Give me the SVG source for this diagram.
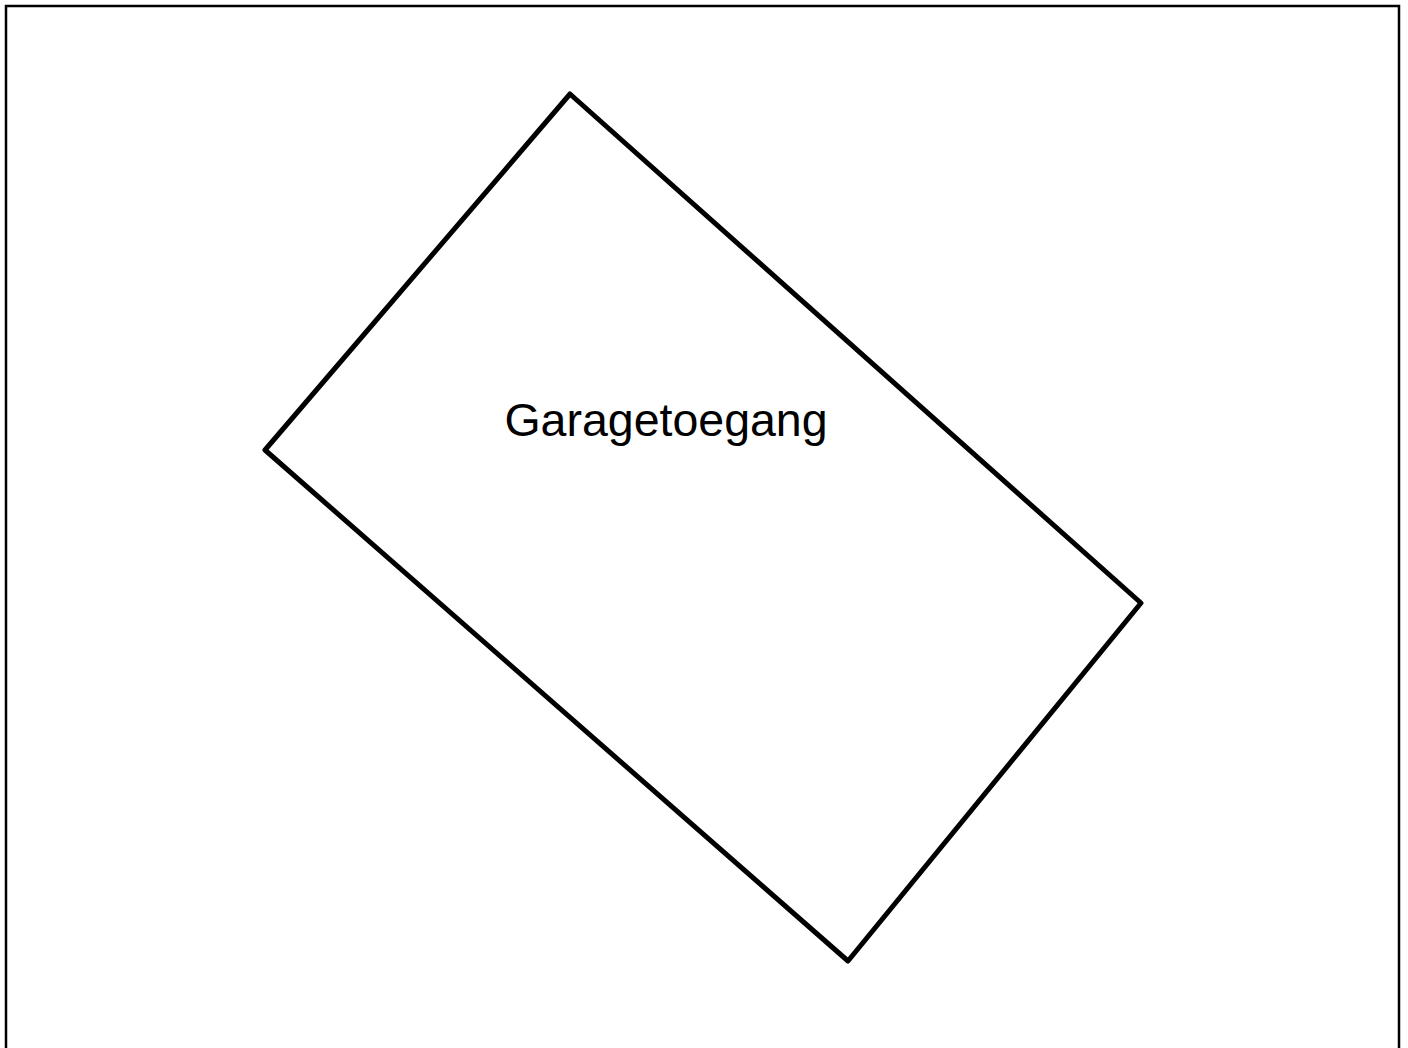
<svg xmlns="http://www.w3.org/2000/svg" width="1408" height="1048" viewBox="0 0 1408 1048">
<style>
.frame{fill:none;stroke:#000;stroke-width:2.5}
.shape{fill:#fff;stroke:#000;stroke-width:5;stroke-linejoin:round}
.label{font-family:"Liberation Sans",Arial,sans-serif;font-size:46.5px;fill:#000;text-anchor:middle}
</style>
<rect x="0" y="0" width="1408" height="1048" fill="#fff"/>
<rect class="frame" x="6" y="6" width="1393" height="1060"/>
<g id="garagetoegang">
<polygon class="shape" points="570,94 1141,603 848,961 265,450"/>
<text class="label" x="666" y="436">Garagetoegang</text>
</g>
<g id="connectors"/>
</svg>
